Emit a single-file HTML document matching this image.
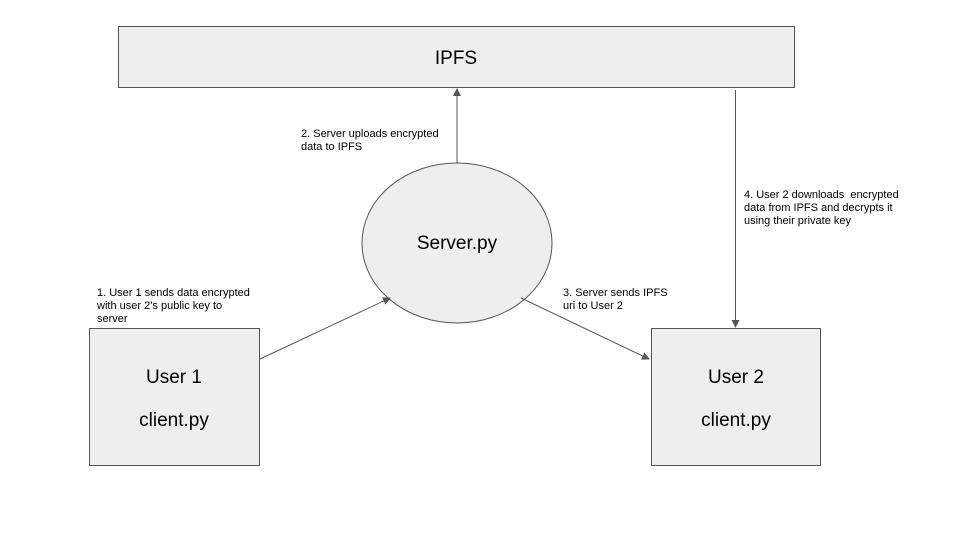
<!DOCTYPE html>
<html><head><style>body{margin:0;background:#fff}svg{display:block}text{font-family:"Liberation Sans",Arial,sans-serif;fill:#000}</style></head>
<body>
<svg width="960" height="540" viewBox="0 0 960 540">
<defs><marker id="a" markerWidth="8" markerHeight="8" refX="7" refY="4" orient="auto" markerUnits="userSpaceOnUse"><path d="M0,0 L8,4 L0,8 z" fill="#555"/></marker></defs>
<rect width="960" height="540" fill="#fff"/>
<rect x="118.5" y="26.5" width="676" height="61" fill="#eeeeee" stroke="#555"/>
<text x="456" y="64" font-size="19" text-anchor="middle">IPFS</text>
<ellipse cx="457" cy="243" rx="95" ry="80" fill="#eeeeee" stroke="#555"/>
<text x="457" y="249" font-size="19" text-anchor="middle">Server.py</text>
<rect x="89.5" y="328.5" width="170" height="137" fill="#eeeeee" stroke="#555"/>
<text x="174" y="383" font-size="19" text-anchor="middle">User 1</text>
<text x="174" y="426" font-size="19" text-anchor="middle">client.py</text>
<rect x="651.5" y="328.5" width="169" height="137" fill="#eeeeee" stroke="#555"/>
<text x="736" y="383" font-size="19" text-anchor="middle">User 2</text>
<text x="736" y="426" font-size="19" text-anchor="middle">client.py</text>
<g stroke="#555" stroke-width="1" fill="none" marker-end="url(#a)">
<line x1="457" y1="163" x2="457" y2="89"/>
<line x1="260" y1="359" x2="390" y2="298"/>
<line x1="521" y1="298" x2="649" y2="359"/>
<line x1="735.5" y1="90" x2="735.5" y2="327"/>
</g>
<g font-size="11">
<text x="301" y="137">2. Server uploads encrypted</text>
<text x="301" y="150">data to IPFS</text>
<text x="97" y="296">1. User 1 sends data encrypted</text>
<text x="97" y="309">with user 2’s public key to</text>
<text x="97" y="322">server</text>
<text x="563" y="296">3. Server sends IPFS</text>
<text x="563" y="309">uri to User 2</text>
<text x="744" y="198">4. User 2 downloads&#160; encrypted</text>
<text x="744" y="211">data from IPFS and decrypts it</text>
<text x="744" y="224">using their private key</text>
</g>
</svg>
</body></html>
